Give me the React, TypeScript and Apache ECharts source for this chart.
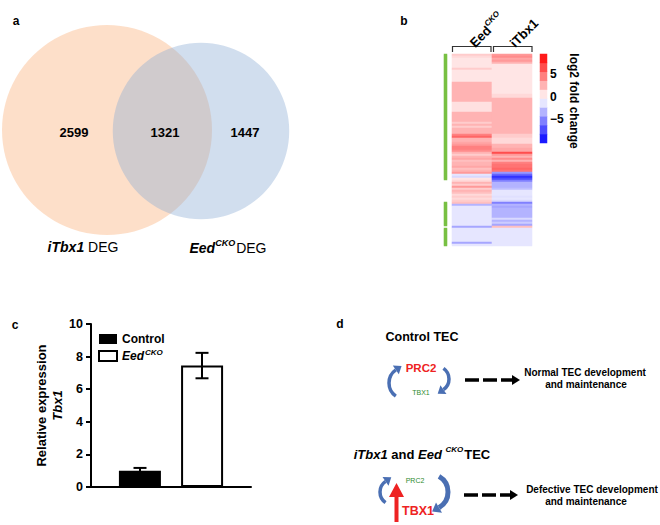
import React, { useEffect, useRef } from 'react';
import * as echarts from 'echarts';

// ---------- Panel a: Venn diagram ----------
const vennRegionNames = ['iTbx1 only', 'both', 'EedCKO only'];
const vennRegionCounts = [2599, 1321, 1447];

// ---------- Panel b: heatmap (log2 fold change) ----------
const heatColumns = ['EedCKO', 'iTbx1'];
const eedLog2FC = [
  2, 1.5, 1, 1, 1, 1, 1, 2, 1, 1,
  1, 1, 1, 1, 3, 3, 3, 3, 3, 3,
  3, 3, 3, 3, 1.2, 1.2, 1.2, 1.2, 1.2, 3,
  3, 3, 3, 3, 2, 3, 2, 3, 3, 3,
  5, 6, 3, 3, 3.5, 4, 5, 5, 4.5, 3,
  2, 3, 3.5, 2.5, 3, 3, 3.5, 2.5, 3, 4,
  -1, -1.5, 1, 1.5, 3, 2, 4, 2, 3, 2.5,
  1.5, 2, 1.5, 2, 2.5, -3, -1, -1, -1, -1,
  -1, -1, -1, -1, -1, -1, -3.5, -1, -1, -1,
  -1, -1, -1, -1, -3.5, -1,
];
const itbx1Log2FC = [
  4, 4.5, 3.5, 4, 3, 1, 1, 1, 1, 1,
  1, 1, 1, 1, 1, 1, 1, 1, 1, 1,
  1.5, 1.5, 3, 3, 3, 3, 3, 3, 3, 3,
  3, 3, 3, 3, 3, 3, 3, 3, 3, 3,
  2, 2, 1.5, 1.5, 1.5, 3, 3, 3.5, 3.5, 7,
  4, 3, 4.5, 3, 5, 5.5, 5.5, 6, 5.5, -4,
  -6, -8, -7, -5, -3, -3, -3, -2.5, -1, -1,
  -1, -1.2, -1, -1.5, -5, -3, -3.5, -3, -3, -3,
  -3, -3, -1.5, -3, -2, -3.5, 2.5, -1, -1, -1,
  -1, -1, -1, -1, -1, -1,
];
const clusterRanges = [[0, 62], [74, 85], [87, 95]];
const colorbarSteps = [-9, -7, -5, -3, -1, 1, 3, 5, 7, 9];
const colorbarTicks = [5, 0, -5];

// ---------- Panel c: qPCR bars ----------
const barGroups = ['Control', 'EedCKO'];
const barMeans = [1.0, 7.45];
const barErrors = [0.17, 0.78];
const barCategory = ['Tbx1'];
const barTicksMax = 10;
const barTickStep = 2;

const FONT = 'Liberation Sans, Arial, Helvetica, sans-serif';

function arrowHead(x: number, y: number, dx: number, dy: number, len: number, half: number, color: string) {
  return {
    type: 'polygon',
    shape: {
      points: [
        [x + dx * len, y + dy * len],
        [x - dy * half, y + dx * half],
        [x + dy * half, y - dx * half],
      ],
    },
    style: { fill: color },
  };
}

function curvedArrow(cx: number, cy: number, r: number, a0: number, a1: number, lw: number, color: string, head: number) {
  const s = (a0 * Math.PI) / 180;
  const e = (a1 * Math.PI) / 180;
  const ex = cx + r * Math.cos(e);
  const ey = cy + r * Math.sin(e);
  return [
    {
      type: 'arc',
      shape: { cx, cy, r, startAngle: s, endAngle: e, clockwise: true },
      style: { stroke: color, lineWidth: lw, fill: null },
    },
    arrowHead(ex, ey, -Math.sin(e), Math.cos(e), head, head * 0.75, color),
  ];
}

function txt(x: number, y: number, text: string, size: number, opts: any = {}) {
  return {
    type: 'text',
    x,
    y,
    style: {
      text,
      fontFamily: FONT,
      fontSize: size,
      fontWeight: opts.weight || 'bold',
      fontStyle: opts.style || 'normal',
      fill: opts.color || '#000',
      align: opts.align || 'center',
      verticalAlign: 'middle',
      textAlign: opts.align || 'center',
      textVerticalAlign: 'middle',
      rich: opts.rich,
    },
  };
}

function buildOption() {
  const totalA = vennRegionCounts[0] + vennRegionCounts[1];
  const totalB = vennRegionCounts[2] + vennRegionCounts[1];
  const vennScale = 210 / Math.sqrt(3920);
  const vennCenters = [[107, 130], [201, 131]];
  const vennLabelPos = [[74, 132], [165, 132], [245, 132]];

  const rowNames = eedLog2FC.map((_, i) => 'g' + i);
  const heatData: any[] = [];
  eedLog2FC.forEach((v, i) => heatData.push([0, i, v]));
  itbx1Log2FC.forEach((v, i) => heatData.push([1, i, v]));
  const clusterData: any[] = [];
  clusterRanges.forEach(([a, b]) => {
    for (let i = a; i <= b; i++) clusterData.push([0, i, 1]);
  });
  const colorbarData = colorbarSteps.map((v, i) => [0, i, v]);

  const barWidth = 42;
  const barGapPx = 20;
  const barOffset = (barWidth + barGapPx) / 2;

  const supRich = {
    b: { fontFamily: FONT, fontWeight: 'bold', fontSize: 13, fill: '#000', color: '#000' },
    bi: { fontFamily: FONT, fontWeight: 'bold', fontStyle: 'italic', fontSize: 13, fill: '#000', color: '#000' },
    s: { fontFamily: FONT, fontWeight: 'bold', fontStyle: 'italic', fontSize: 8, padding: [0, 1, 9, 0], fill: '#000', color: '#000' },
    r: { fontFamily: FONT, fontWeight: 'normal', fontSize: 14, fill: '#000', color: '#000' },
    bi14: { fontFamily: FONT, fontWeight: 'bold', fontStyle: 'italic', fontSize: 14, fill: '#000', color: '#000' },
    s10: { fontFamily: FONT, fontWeight: 'bold', fontStyle: 'italic', fontSize: 9, padding: [0, 1, 10, 0], fill: '#000', color: '#000' },
  };

  const blue = '#4a6fb3';
  const red = '#ee2222';
  const green = '#2e8b2e';

  const graphics: any[] = [
    // panel letters
    txt(16, 21, 'a', 12),
    txt(404, 21, 'b', 12),
    txt(15, 325, 'c', 12),
    txt(340, 324, 'd', 12),
    // Venn set labels
    txt(83, 247, '{bi14|iTbx1} {r|DEG}', 14, { rich: supRich }),
    txt(228, 248, '{bi14|Eed}{s10|CKO}{r|DEG}', 14, { rich: supRich }),
    // heatmap brackets
    { type: 'polyline', shape: { points: [[452.5, 52], [452.5, 46.5], [491, 46.5], [491, 52]] }, style: { stroke: '#333', lineWidth: 1.2, fill: null } },
    { type: 'polyline', shape: { points: [[493.5, 52], [493.5, 46.5], [532, 46.5], [532, 52]] }, style: { stroke: '#333', lineWidth: 1.2, fill: null } },
    // panel d
    txt(422, 337, 'Control TEC', 12.5),
    ...curvedArrow(405, 383, 16, 125, 235, 3.5, blue, 7),
    ...curvedArrow(436, 379, 13, -55, 55, 3.5, blue, 7),
    txt(421, 368, 'PRC2', 11.5, { color: red }),
    txt(421, 392, 'TBX1', 7, { color: green, weight: 'normal' }),
    { type: 'line', shape: { x1: 465, y1: 380, x2: 513, y2: 380 }, style: { stroke: '#000', lineWidth: 3.5, lineDash: [14, 4] } },
    arrowHead(512, 380, 1, 0, 8, 5, '#000'),
    txt(585, 372, 'Normal TEC development', 10),
    txt(586, 384, 'and maintenance', 10),

    txt(422, 454, '{bi|iTbx1}{b| and }{bi|Eed }{s|CKO}{b|TEC}', 13, { rich: supRich }),
    ...curvedArrow(393, 492, 13, 125, 235, 3.5, blue, 7),
    ...curvedArrow(430, 492, 18, -60, 60, 5, blue, 8),
    txt(415, 480, 'PRC2', 7, { color: green, weight: 'normal' }),
    {
      type: 'polygon',
      shape: { points: [[396.5, 483], [404, 497], [398.5, 497], [398.5, 522], [394.5, 522], [394.5, 497], [389, 497]] },
      style: { fill: red },
    },
    txt(418, 511, 'TBX1', 12.5, { color: red }),
    { type: 'line', shape: { x1: 464, y1: 495, x2: 511, y2: 495 }, style: { stroke: '#000', lineWidth: 3.5, lineDash: [14, 4] } },
    arrowHead(510, 495, 1, 0, 8, 5, '#000'),
    txt(592, 489, 'Defective TEC development', 10),
    txt(586, 501, 'and maintenance', 10),
  ];

  return {
    animation: false,
    backgroundColor: '#ffffff',
    textStyle: { fontFamily: FONT },
    grid: [
      { left: 0, top: 0, width: 300, height: 260, outerBoundsMode: 'none' },
      { left: 452, top: 54, width: 80, height: 192, outerBoundsMode: 'none' },
      { left: 444, top: 54, width: 3, height: 192, outerBoundsMode: 'none' },
      { left: 540, top: 54, width: 7, height: 89, outerBoundsMode: 'none' },
      { left: 540, top: 52, width: 7, height: 89, outerBoundsMode: 'none' },
      { left: 91, top: 324, width: 160, height: 163, outerBoundsMode: 'none' },
    ],
    xAxis: [
      { type: 'value', gridIndex: 0, min: 0, max: 300, show: false },
      {
        type: 'category',
        gridIndex: 1,
        data: heatColumns,
        position: 'top',
        axisLine: { show: false },
        axisTick: { show: false },
        axisLabel: {
          rotate: -45,
          margin: 9,
          interval: 0,
          formatter: (v: string) => (v === 'EedCKO' ? '{b|Eed}{s|CKO}' : '{b|iTbx1}'),
          rich: supRich,
        },
      },
      { type: 'category', gridIndex: 2, data: ['cluster'], show: false },
      { type: 'category', gridIndex: 3, data: ['scale'], show: false },
      { type: 'value', gridIndex: 4, min: 0, max: 1, show: false },
      {
        type: 'category',
        gridIndex: 5,
        data: barCategory,
        axisLine: { lineStyle: { color: '#000', width: 2 } },
        axisTick: { alignWithLabel: true, length: 5, lineStyle: { color: '#000', width: 2 } },
        axisLabel: { show: false },
      },
    ],
    yAxis: [
      { type: 'value', gridIndex: 0, min: 0, max: 260, inverse: true, show: false },
      { type: 'category', gridIndex: 1, data: rowNames, inverse: true, show: false },
      { type: 'category', gridIndex: 2, data: rowNames, inverse: true, show: false },
      { type: 'category', gridIndex: 3, data: colorbarSteps.map(String), show: false },
      {
        type: 'value',
        gridIndex: 4,
        min: -10,
        max: 10,
        interval: 5,
        position: 'right',
        axisLine: { show: false },
        axisTick: { show: false },
        splitLine: { show: false },
        axisLabel: {
          margin: 3,
          fontSize: 12,
          fontWeight: 'bold',
          color: '#000',
          formatter: (v: number) => (colorbarTicks.includes(v) ? String(v).replace('-', '\u2212') : ''),
        },
        name: 'log2 fold change',
        nameLocation: 'middle',
        nameRotate: -90,
        nameGap: 19,
        nameTextStyle: { fontSize: 12, fontWeight: 'bold', color: '#000', padding: [0, 0, 0, 9] },
      },
      {
        type: 'value',
        gridIndex: 5,
        min: 0,
        max: barTicksMax,
        interval: barTickStep,
        axisLine: { show: true, lineStyle: { color: '#000', width: 2 } },
        axisTick: { show: true, length: 5, lineStyle: { color: '#000', width: 2 } },
        splitLine: { show: false },
        axisLabel: { fontSize: 12.5, fontWeight: 'bold', color: '#000', margin: 8 },
        name: 'Relative expression\n{i|Tbx1}',
        nameLocation: 'middle',
        nameRotate: 90,
        nameGap: 25,
        nameTextStyle: {
          fontSize: 13,
          fontWeight: 'bold',
          color: '#000',
          lineHeight: 16,
          rich: { i: { fontSize: 13, fontWeight: 'bold', fontStyle: 'italic', color: '#000', lineHeight: 16 } },
        },
      },
    ],
    visualMap: [
      {
        type: 'continuous',
        show: false,
        seriesIndex: [2, 4],
        dimension: 2,
        min: -10,
        max: 10,
        inRange: { color: ['#0000ff', '#ffffff', '#ff0000'] },
      },
      {
        type: 'piecewise',
        show: false,
        seriesIndex: [3],
        dimension: 2,
        pieces: [{ min: 0.5, max: 1.5, color: '#78c043' }],
      },
    ],
    legend: {
      data: barGroups,
      orient: 'vertical',
      left: 93,
      top: 328,
      itemWidth: 18,
      itemHeight: 10,
      itemGap: 3,
      icon: 'rect',
      selectedMode: false,
      formatter: (n: string) => (n === 'EedCKO' ? '{i|Eed}{s|CKO}' : '{b|Control}'),
      textStyle: {
        color: '#000',
        fontSize: 12,
        fontWeight: 'bold',
        rich: {
          b: { fontSize: 12, fontWeight: 'bold', color: '#000' },
          i: { fontSize: 12, fontWeight: 'bold', fontStyle: 'italic', color: '#000' },
          s: { fontSize: 8, fontWeight: 'bold', fontStyle: 'italic', color: '#000', padding: [0, 0, 8, 1] },
        },
      },
    },
    graphic: { elements: graphics },
    series: [
      {
        type: 'scatter',
        xAxisIndex: 0,
        yAxisIndex: 0,
        silent: true,
        symbol: 'circle',
        data: [
          { value: vennCenters[0], symbolSize: vennScale * Math.sqrt(totalA), itemStyle: { color: 'rgba(249,179,125,0.52)' } },
          { value: vennCenters[1], symbolSize: vennScale * Math.sqrt(totalB), itemStyle: { color: 'rgba(139,173,213,0.5)' } },
        ],
      },
      {
        type: 'scatter',
        xAxisIndex: 0,
        yAxisIndex: 0,
        silent: true,
        symbolSize: 1,
        itemStyle: { color: 'rgba(0,0,0,0)' },
        label: {
          show: true,
          position: 'inside',
          fontSize: 13,
          fontWeight: 'bold',
          color: '#000',
          opacity: 1,
          textBorderWidth: 0,
          formatter: (p: any) => String(p.value[2]),
        },
        data: vennRegionCounts.map((c, i) => ({ name: vennRegionNames[i], value: [vennLabelPos[i][0], vennLabelPos[i][1], c] })),
      },
      {
        type: 'heatmap',
        xAxisIndex: 1,
        yAxisIndex: 1,
        silent: true,
        data: heatData,
        itemStyle: { borderWidth: 0 },
      },
      {
        type: 'heatmap',
        xAxisIndex: 2,
        yAxisIndex: 2,
        silent: true,
        data: clusterData,
      },
      {
        type: 'heatmap',
        xAxisIndex: 3,
        yAxisIndex: 3,
        silent: true,
        data: colorbarData,
      },
      {
        type: 'bar',
        name: barGroups[0],
        xAxisIndex: 5,
        yAxisIndex: 5,
        barWidth,
        barGap: ((barGapPx / barWidth) * 100).toFixed(0) + '%',
        itemStyle: { color: '#000' },
        data: [barMeans[0]],
      },
      {
        type: 'bar',
        name: barGroups[1],
        xAxisIndex: 5,
        yAxisIndex: 5,
        barWidth,
        barGap: ((barGapPx / barWidth) * 100).toFixed(0) + '%',
        itemStyle: { color: '#fff', borderColor: '#000', borderWidth: 2 },
        data: [barMeans[1]],
      },
      {
        type: 'custom',
        xAxisIndex: 5,
        yAxisIndex: 5,
        silent: true,
        z: 10,
        data: barMeans.map((m, i) => [0, m, barErrors[i], i]),
        encode: { x: 0, y: 1 },
        renderItem: (params: any, api: any) => {
          const g = api.value(3);
          const mean = api.value(1);
          const err = api.value(2);
          const base = api.coord([api.value(0), mean]);
          const x = base[0] + (g === 0 ? -barOffset : barOffset);
          const yTop = api.coord([api.value(0), mean + err])[1];
          const yBot = api.coord([api.value(0), mean - err])[1];
          const cap = 6.5;
          const st = { stroke: '#000', lineWidth: 2 };
          return {
            type: 'group',
            children: [
              { type: 'line', shape: { x1: x, y1: yTop, x2: x, y2: yBot }, style: st },
              { type: 'line', shape: { x1: x - cap, y1: yTop, x2: x + cap, y2: yTop }, style: st },
              { type: 'line', shape: { x1: x - cap, y1: yBot, x2: x + cap, y2: yBot }, style: st },
            ],
          };
        },
      },
    ],
  };
}

export default function App() {
  const ref = useRef<HTMLDivElement>(null);
  useEffect(() => {
    if (!ref.current) return;
    const chart = echarts.init(ref.current, undefined, { renderer: 'svg' });
    chart.setOption(buildOption() as any);
    return () => chart.dispose();
  }, []);
  return (
    <div
      ref={ref}
      style={{ position: 'fixed', left: 0, top: 0, width: 660, height: 525, background: '#fff' }}
    />
  );
}
